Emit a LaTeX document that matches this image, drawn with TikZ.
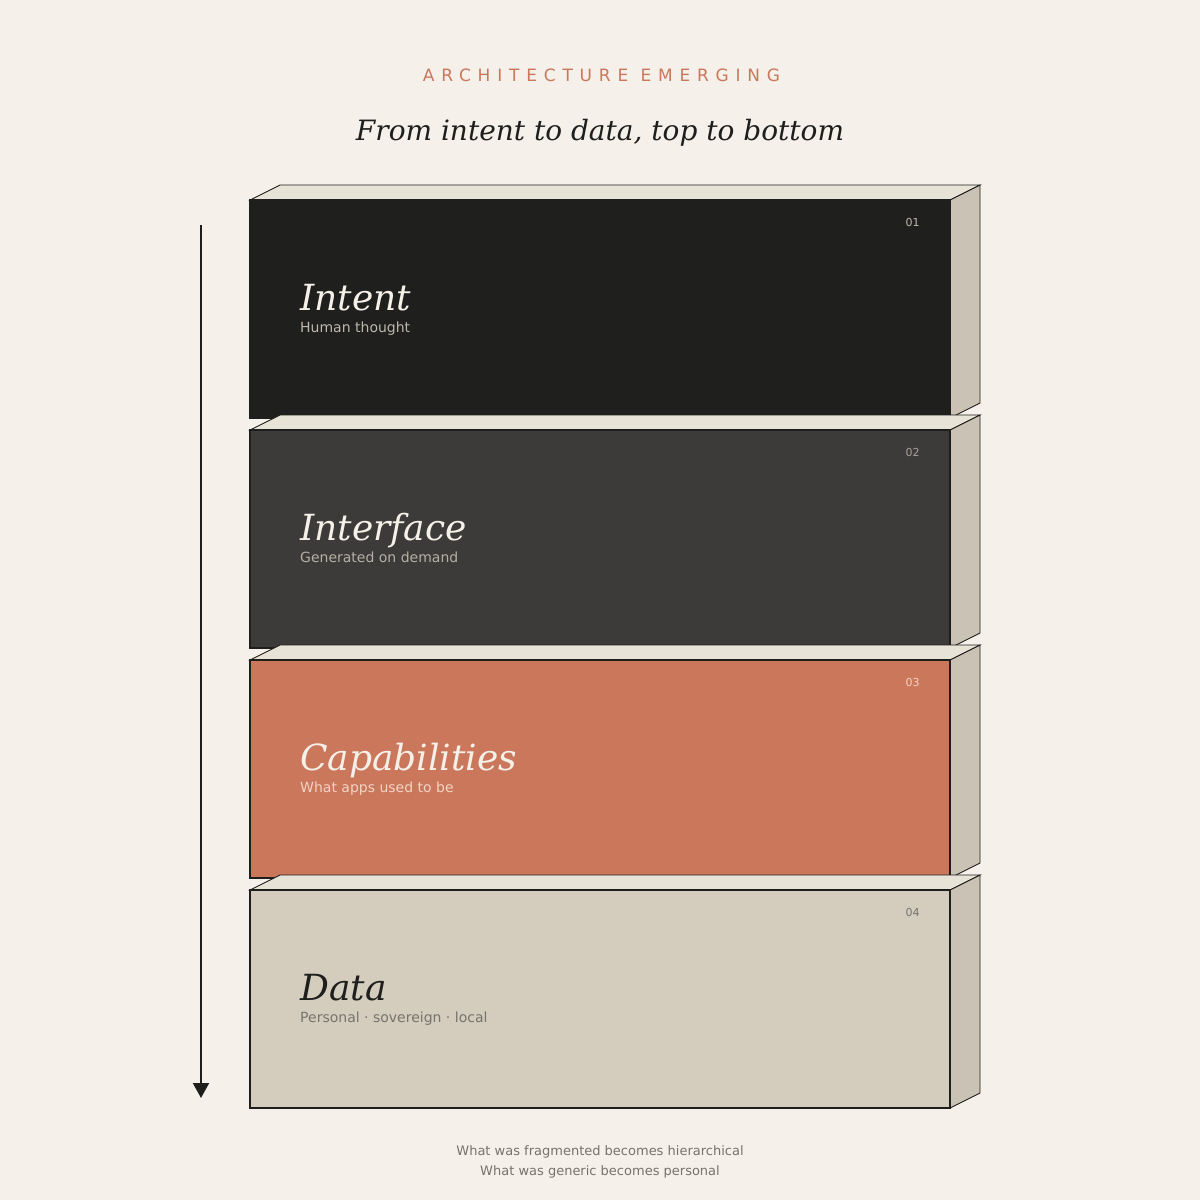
\documentclass[tikz,border=0pt]{standalone}
\usepackage{fontspec}
\setmainfont{DejaVu Serif}
\setsansfont{DejaVu Sans}
\usetikzlibrary{arrows.meta}
\definecolor{bg}{HTML}{F5F0EA}
\definecolor{ink}{HTML}{1E1E1C}
\definecolor{lone}{HTML}{1F1F1D}
\definecolor{ltwo}{HTML}{3C3B39}
\definecolor{lthree}{HTML}{CB775C}
\definecolor{lfour}{HTML}{D4CDBE}
\definecolor{topface}{HTML}{E8E3D7}
\definecolor{sideface}{HTML}{C9C2B5}
\definecolor{accent}{HTML}{C9785D}
\definecolor{cream}{HTML}{F5F0E8}
\definecolor{subone}{HTML}{BDB8AE}
\definecolor{subtwo}{HTML}{B5B0A7}
\definecolor{subthree}{HTML}{F2D3C3}
\definecolor{subfour}{HTML}{77736C}
\definecolor{numone}{HTML}{C0BBB1}
\definecolor{numtwo}{HTML}{A8A39A}
\definecolor{foot}{HTML}{77736C}
\tikzset{
  front/.style={draw=ink, line width=2pt, minimum width=700pt, minimum height=218pt, inner sep=0pt, outer sep=0pt},
  facebox/.style={draw=ink, line width=0.9pt, line join=miter},
  layername/.style={anchor=base west, inner sep=0pt, font=\fontsize{36}{40}\selectfont\itshape},
  layersub/.style={anchor=base west, inner sep=0pt, font=\sffamily\fontsize{14}{16}\selectfont},
  layernum/.style={anchor=base, inner sep=0pt, font=\sffamily\fontsize{11}{12}\selectfont},
  footline/.style={anchor=base, inner sep=0pt, text=foot, font=\sffamily\fontsize{13}{15}\selectfont}
}
\begin{document}
\begin{tikzpicture}[x=1pt,y=-1pt]
\useasboundingbox[fill=bg] (0,0) rectangle (1200,1200);
% heading
\node[anchor=base, inner sep=0pt, text=accent, font=\sffamily\fontsize{17}{19}\selectfont\addfontfeature{LetterSpace=40}] (kicker) at (601.5,81) {ARCHITECTURE EMERGING};
\node[anchor=base, inner sep=0pt, text=ink, font=\fontsize{28}{30}\selectfont\itshape] (headline) at (600,140) {From intent to data, top to bottom};
% layers
\foreach \i/\t/\fc/\bc/\nm/\sb/\nc/\sc/\num/\numc in {
  1/200/lone/lone/Intent/Human thought/cream/subone/01/numone,
  2/430/ltwo/ink/Interface/Generated on demand/cream/subtwo/02/numtwo,
  3/660/lthree/ink/Capabilities/What apps used to be/cream/subthree/03/subthree,
  4/890/lfour/ink/Data/Personal · sovereign · local/ink/subfour/04/subfour}{
  \node[front, fill=\fc, draw=\bc] (f\i) at (600,\t+109) {};
  \draw[facebox, fill=topface] (f\i.north west) -- ++(30,-15) -- ++(700,0) -- (f\i.north east) -- cycle;
  \draw[facebox, fill=sideface] (f\i.north east) -- ++(30,-15) -- ++(0,218) -- (f\i.south east) -- cycle;
  \node[front, fill=\fc, draw=\bc] at (f\i) {};
  \node[layername, text=\nc] (n\i) at (300,\t+110) {\nm};
  \node[layersub, text=\sc] (s\i) at (300,\t+132) {\sb};
  \node[layernum, text=\numc] (k\i) at (912.5,\t+26) {\num};
}
% arrow
\coordinate (atop) at (201,225);
\coordinate (abot) at (201,1098);
\draw[ink, line width=2pt, -{Triangle[width=16pt,length=15pt]}] (atop) -- (abot);
% footer
\node[footline] (foota) at (600,1155) {What was fragmented becomes hierarchical};
\node[footline] (footb) at (600,1175) {What was generic becomes personal};
\end{tikzpicture}
\end{document}
